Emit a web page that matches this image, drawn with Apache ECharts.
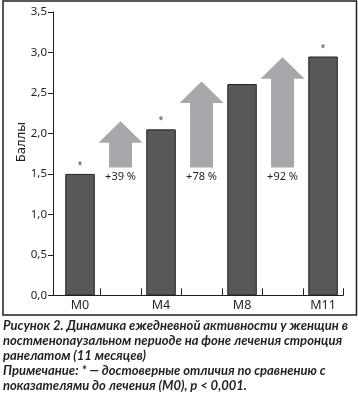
<!DOCTYPE html>
<html>
<head>
<meta charset="utf-8">
<script src="https://cdn.jsdelivr.net/npm/echarts@6/dist/echarts.min.js"></script>
<style>
html,body{margin:0;padding:0;background:#fff;}
#c{width:358px;height:393px;}
</style>
</head>
<body>
<div id="c"></div>
<script>
// ---- data ----
const categories = ['M0', 'M4', 'M8', 'M11'];
const scores = [1.5, 2.05, 2.61, 2.95];
const significance = ['*', '*', '', '*'];
const arrowBase = [1.58, 1.58, 1.58];
const arrowTop = [2.15, 2.64, 2.94];
const arrowLabels = ['+39 %', '+78 %', '+92 %'];
const yTicks = ['0,0', '0,5', '1,0', '1,5', '2,0', '2,5', '3,0', '3,5'];
const yAxisName = 'Баллы';
const captionLines = [
  'Рисунок 2. Динамика ежедневной активности у женщин в',
  'постменопаузальном периоде на фоне лечения стронция',
  'ранелатом (11 месяцев)',
  'Примечание: * — достоверные отличия по сравнению с',
  'показателями до лечения (М0), p < 0,001.'
];

const INK = '#231f20';
const FONT = 'Noto Sans';

const barData = categories.map((c, i) => ({
  value: [i * 2, scores[i]],
  label: { show: significance[i] !== '', formatter: significance[i] }
}));
const arrowData = arrowLabels.map((l, i) => [i * 2 + 1, arrowBase[i], arrowTop[i], l]);

const chart = echarts.init(document.getElementById('c'), null, { renderer: 'canvas' });
chart.setOption({
  animation: false,
  backgroundColor: '#fff',
  textStyle: { fontFamily: FONT },
  title: {
    text: captionLines.join('\n'),
    left: 3, top: 318, padding: 0,
    textStyle: { fontFamily: 'Lato', fontSize: 13, fontWeight: 'bold', fontStyle: 'italic', color: INK, lineHeight: 15 }
  },
  graphic: [
    { type: 'rect', shape: { x: 3, y: 1, width: 353.5, height: 314 }, style: { fill: 'none', stroke: INK, lineWidth: 1.5 }, silent: true },
    { type: 'text', x: 21, y: 142, rotation: Math.PI / 2, style: { text: yAxisName, fontFamily: FONT, fontSize: 13, fill: INK, align: 'center', verticalAlign: 'middle' } }
  ],
  grid: { left: 53, right: 14.7, top: 12, bottom: 97.7, containLabel: false, outerBoundsMode: 'none' },
  xAxis: {
    type: 'value', min: -0.667, max: 6.5,
    axisLine: { show: true, onZero: false, lineStyle: { color: INK, width: 1 } },
    axisTick: { show: true, inside: true, length: 7, lineStyle: { color: INK }, customValues: [0.5, 1.5, 2.5, 3.5, 4.5, 5.5, 6.5] },
    axisLabel: { customValues: [0, 2, 4, 6], formatter: v => categories[Math.round(v / 2)], color: INK, fontSize: 12.5, margin: 4 },
    splitLine: { show: false }
  },
  yAxis: {
    type: 'value', min: 0, max: 3.5, interval: 0.5,
    axisLine: { show: true, onZero: false, lineStyle: { color: INK, width: 1 } },
    axisTick: { show: true, length: 5, lineStyle: { color: INK } },
    axisLabel: { formatter: (v) => yTicks[Math.round(v / 0.5)], color: INK, fontSize: 11.5, margin: 6 },
    splitLine: { show: false }
  },
  series: [
    {
      type: 'bar', data: barData, barWidth: 29.5,
      itemStyle: { color: '#58585a', borderColor: INK, borderWidth: 1 },
      label: { position: 'top', distance: 4, fontSize: 9, color: '#444' }
    },
    {
      type: 'custom', data: arrowData,
      renderItem: function (params, api) {
        const x = api.value(0);
        const pb = api.coord([x, api.value(1)]);
        const pt = api.coord([x, api.value(2)]);
        const cx = pt[0], headH = 21.5, headW = 44, shaftW = 23;
        const hy = pt[1] + headH;
        return {
          type: 'group',
          children: [
            { type: 'polygon', shape: { points: [
              [cx, pt[1]], [cx + headW / 2, hy], [cx + shaftW / 2, hy], [cx + shaftW / 2, pb[1]],
              [cx - shaftW / 2, pb[1]], [cx - shaftW / 2, hy], [cx - headW / 2, hy]
            ] }, style: { fill: '#a7a8ab' } },
            { type: 'text', x: cx, y: pb[1] + 9, style: { text: api.value(3), fontFamily: FONT, fontSize: 11, fill: INK, align: 'center', verticalAlign: 'middle' } }
          ]
        };
      }
    }
  ]
});
</script>
</body>
</html>
